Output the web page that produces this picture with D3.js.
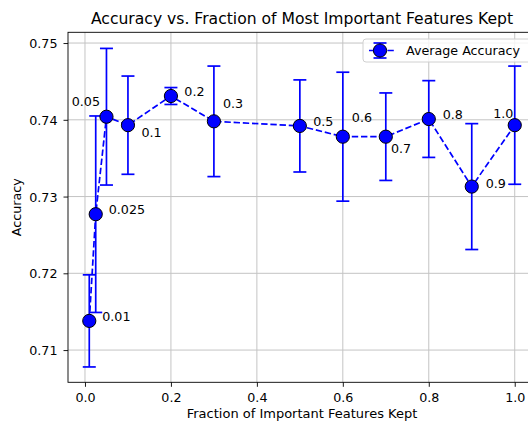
<!DOCTYPE html>
<html>
<head>
<meta charset="utf-8">
<script src="https://cdn.jsdelivr.net/npm/d3@7"></script>
<style>
  body { margin: 0; background: #fff; }
  svg text { font-family: "DejaVu Sans", sans-serif; fill: #000; }
</style>
</head>
<body>
<svg id="chart" width="528" height="422"></svg>
<script>
// values
var fractions = [0.01, 0.025, 0.05, 0.1, 0.2, 0.3, 0.5, 0.6, 0.7, 0.8, 0.9, 1.0]
var accuracy = [0.7138, 0.7277, 0.7404, 0.7393, 0.7431, 0.7398, 0.7392, 0.7378, 0.7378, 0.7401, 0.7313, 0.7393]
var stdDev = [0.0060, 0.0128, 0.0089, 0.0064, 0.0011, 0.0072, 0.0060, 0.0084, 0.0057, 0.0050, 0.0082, 0.0077]
var pointLabels = ["0.01", "0.025", "0.05", "0.1", "0.2", "0.3", "0.5", "0.6", "0.7", "0.8", "0.9", "1.0"]
var xTicks = [0.0, 0.2, 0.4, 0.6, 0.8, 1.0]
var yTicks = [0.71, 0.72, 0.73, 0.74, 0.75]

// where each annotation sits relative to its point: [dx, dy, anchor]
var labelOffsets = [
  [13, 0, "start"], [13, 0, "start"], [-6.5, -11, "end"], [13.5, 11.7, "start"],
  [13.4, 0, "start"], [9, -13.7, "start"], [13.4, 0, "start"], [9, -14.6, "start"],
  [5.2, 16.3, "start"], [13.9, 0, "start"], [14, 1, "start"], [-1.4, -6.7, "end"]
]

var plot = { left: 68, right: 536, top: 32.3, bottom: 382.3 }
var blue = "#0000ff"
var fontSize = "12.7px"

var svg = d3.select("#chart")

var x = d3.scaleLinear().domain([-0.0395, 1.0495]).range([plot.left, plot.right])
var y = d3.scaleLinear().domain([0.7058, 0.7514]).range([plot.bottom, plot.top])

var points = fractions.map(function(f, i) {
  return { x: f, y: accuracy[i], e: stdDev[i], label: pointLabels[i], off: labelOffsets[i] }
})

// grid lines
var grid = svg.append("g").attr("id", "grid")
grid.selectAll("line.gx")
  .data(xTicks)
  .enter().append("line")
  .attr("x1", d => x(d)).attr("x2", d => x(d))
  .attr("y1", plot.top).attr("y2", plot.bottom)
  .attr("stroke", "#c4c4c4").attr("stroke-width", 1)
grid.selectAll("line.gy")
  .data(yTicks)
  .enter().append("line")
  .attr("y1", d => y(d)).attr("y2", d => y(d))
  .attr("x1", plot.left).attr("x2", plot.right)
  .attr("stroke", "#c4c4c4").attr("stroke-width", 1)

// axes
var xAxis = svg.append("g")
  .attr("transform", "translate(0," + plot.bottom + ")")
  .call(d3.axisBottom(x).tickValues(xTicks).tickFormat(d3.format(".1f")).tickSize(4.5).tickPadding(6))
var yAxis = svg.append("g")
  .attr("transform", "translate(" + plot.left + ",0)")
  .call(d3.axisLeft(y).tickValues(yTicks).tickFormat(d3.format(".2f")).tickSize(4.5).tickPadding(6))

svg.selectAll(".domain").remove()
svg.selectAll(".tick line").attr("stroke", "#000").attr("stroke-width", 0.9)
svg.selectAll(".tick text").style("font-size", fontSize).style("font-family", "DejaVu Sans")
yAxis.selectAll(".tick text").attr("dy", "0.36em")

// spines
svg.append("rect")
  .attr("x", plot.left).attr("y", plot.top)
  .attr("width", plot.right - plot.left).attr("height", plot.bottom - plot.top)
  .attr("fill", "none").attr("stroke", "#000").attr("stroke-width", 0.9)

// error bars
var capHalf = 6.5
var bars = svg.append("g").attr("id", "errorbars")
bars.selectAll("line.bar")
  .data(points)
  .enter().append("line")
  .attr("x1", d => x(d.x)).attr("x2", d => x(d.x))
  .attr("y1", d => y(d.y - d.e)).attr("y2", d => y(d.y + d.e))
  .attr("stroke", blue).attr("stroke-width", 1.7)
bars.selectAll("line.capTop")
  .data(points)
  .enter().append("line")
  .attr("x1", d => x(d.x) - capHalf).attr("x2", d => x(d.x) + capHalf)
  .attr("y1", d => y(d.y + d.e)).attr("y2", d => y(d.y + d.e))
  .attr("stroke", blue).attr("stroke-width", 1.7)
bars.selectAll("line.capBottom")
  .data(points)
  .enter().append("line")
  .attr("x1", d => x(d.x) - capHalf).attr("x2", d => x(d.x) + capHalf)
  .attr("y1", d => y(d.y - d.e)).attr("y2", d => y(d.y - d.e))
  .attr("stroke", blue).attr("stroke-width", 1.7)

// dashed line through the means
var line = d3.line().x(d => x(d.x)).y(d => y(d.y))
svg.append("path")
  .datum(points)
  .attr("d", line)
  .attr("fill", "none")
  .attr("stroke", blue)
  .attr("stroke-width", 1.7)
  .attr("stroke-dasharray", "6.4,2.8")

// markers
svg.append("g").selectAll("circle")
  .data(points)
  .enter().append("circle")
  .attr("cx", d => x(d.x)).attr("cy", d => y(d.y))
  .attr("r", 6.6)
  .attr("fill", blue).attr("stroke", "#000").attr("stroke-width", 1)

// annotations
svg.append("g").selectAll("text")
  .data(points)
  .enter().append("text")
  .attr("x", d => x(d.x) + d.off[0])
  .attr("y", d => y(d.y) + d.off[1])
  .attr("text-anchor", d => d.off[2])
  .style("font-size", fontSize)
  .text(d => d.label)

// title and axis labels
svg.append("text")
  .attr("x", (plot.left + plot.right) / 2).attr("y", 24)
  .attr("text-anchor", "middle")
  .style("font-size", "15.6px")
  .text("Accuracy vs. Fraction of Most Important Features Kept")

svg.append("text")
  .attr("x", (plot.left + plot.right) / 2).attr("y", 417.5)
  .attr("text-anchor", "middle")
  .style("font-size", "13px")
  .text("Fraction of Important Features Kept")

svg.append("text")
  .attr("transform", "translate(21," + ((plot.top + plot.bottom) / 2) + ") rotate(-90)")
  .attr("text-anchor", "middle")
  .style("font-size", fontSize)
  .text("Accuracy")

// legend
var legend = svg.append("g").attr("transform", "translate(363,39)")
legend.append("rect")
  .attr("width", 168).attr("height", 23).attr("rx", 3)
  .attr("fill", "#fff").attr("fill-opacity", 0.8)
  .attr("stroke", "#d0d0d0").attr("stroke-width", 1)
legend.append("line")
  .attr("x1", 6).attr("x2", 32).attr("y1", 11.5).attr("y2", 11.5)
  .attr("stroke", blue).attr("stroke-width", 1.7).attr("stroke-dasharray", "6.4,2.8")
legend.append("line")
  .attr("x1", 17).attr("x2", 17).attr("y1", 4).attr("y2", 19)
  .attr("stroke", blue).attr("stroke-width", 1.7)
legend.selectAll("line.cap")
  .data([4, 19])
  .enter().append("line")
  .attr("x1", 17 - capHalf).attr("x2", 17 + capHalf)
  .attr("y1", d => d).attr("y2", d => d)
  .attr("stroke", blue).attr("stroke-width", 1.7)
legend.append("circle")
  .attr("cx", 17).attr("cy", 11.5).attr("r", 6.6)
  .attr("fill", blue).attr("stroke", "#000").attr("stroke-width", 1)
legend.append("text")
  .attr("x", 43).attr("y", 16)
  .style("font-size", fontSize)
  .text("Average Accuracy")
</script>
</body>
</html>
